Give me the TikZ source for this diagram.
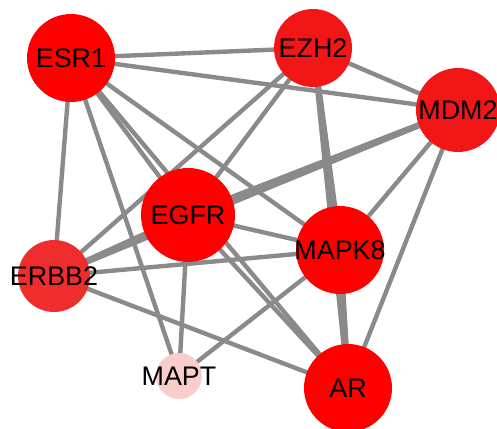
\documentclass[tikz,border=0pt]{standalone}
\usepackage{fontspec}
\setmainfont{Liberation Sans}
\usetikzlibrary{backgrounds}

\begin{document}
\begin{tikzpicture}[x=0.02cm, y=-0.02cm, font=\fontsize{15.3}{17}\selectfont]
  % Define node and edge colors
  \definecolor{edgegray}{RGB}{138,138,138}
  \definecolor{deepred}{RGB}{254,0,0}
  \definecolor{midred}{RGB}{243,22,22}
  \definecolor{softred}{RGB}{240,45,45}
  \definecolor{palered}{RGB}{250,205,205}

  \tikzset{
    gene/.style={circle, inner sep=0pt},
    link/.style={draw=edgegray, line width=2.5pt},
    heavylink/.style={link, line width=3.6pt}
  }

  \useasboundingbox (0,0) rectangle (497,429);

  % Gene nodes
  \node[gene, fill=deepred, minimum size=1.76cm, label=center:ESR1] (ESR1) at (71,58) {};
  \node[gene, fill=midred, minimum size=1.56cm, label=center:EZH2] (EZH2) at (313,48) {};
  \node[gene, fill=midred, minimum size=1.68cm, label=center:MDM2] (MDM2) at (458,110) {};
  \node[gene, fill=deepred, minimum size=1.88cm, label=center:EGFR] (EGFR) at (188,215) {};
  \node[gene, fill=deepred, minimum size=1.76cm, label=center:MAPK8] (MAPK8) at (340,250) {};
  \node[gene, fill=softred, minimum size=1.44cm, label=center:ERBB2] (ERBB2) at (54,276) {};
  \node[gene, fill=palered, minimum size=0.92cm, label=center:MAPT] (MAPT) at (179,376) {};
  \node[gene, fill=deepred, minimum size=1.76cm, label=center:AR] (AR) at (348,388) {};

  % Interactions, behind the nodes
  \begin{pgfonlayer}{background}
    \foreach \a/\b in {ESR1/EZH2, ESR1/MDM2, ESR1/ERBB2, ESR1/MAPT, ESR1/EGFR,
      ESR1/AR, ESR1/MAPK8, EZH2/MDM2, EZH2/EGFR, EZH2/ERBB2, EZH2/AR,
      MDM2/ERBB2, MDM2/MAPK8, MDM2/AR, EGFR/MAPK8, EGFR/MAPT, EGFR/AR,
      MAPK8/ERBB2, MAPK8/MAPT, ERBB2/AR}
      \draw[link] (\a.center) -- (\b.center);
    % Heavier ones
    \foreach \a/\b in {EZH2/MAPK8, MDM2/EGFR, EGFR/ERBB2, MAPK8/AR}
      \draw[heavylink] (\a.center) -- (\b.center);
  \end{pgfonlayer}
\end{tikzpicture}
\end{document}
